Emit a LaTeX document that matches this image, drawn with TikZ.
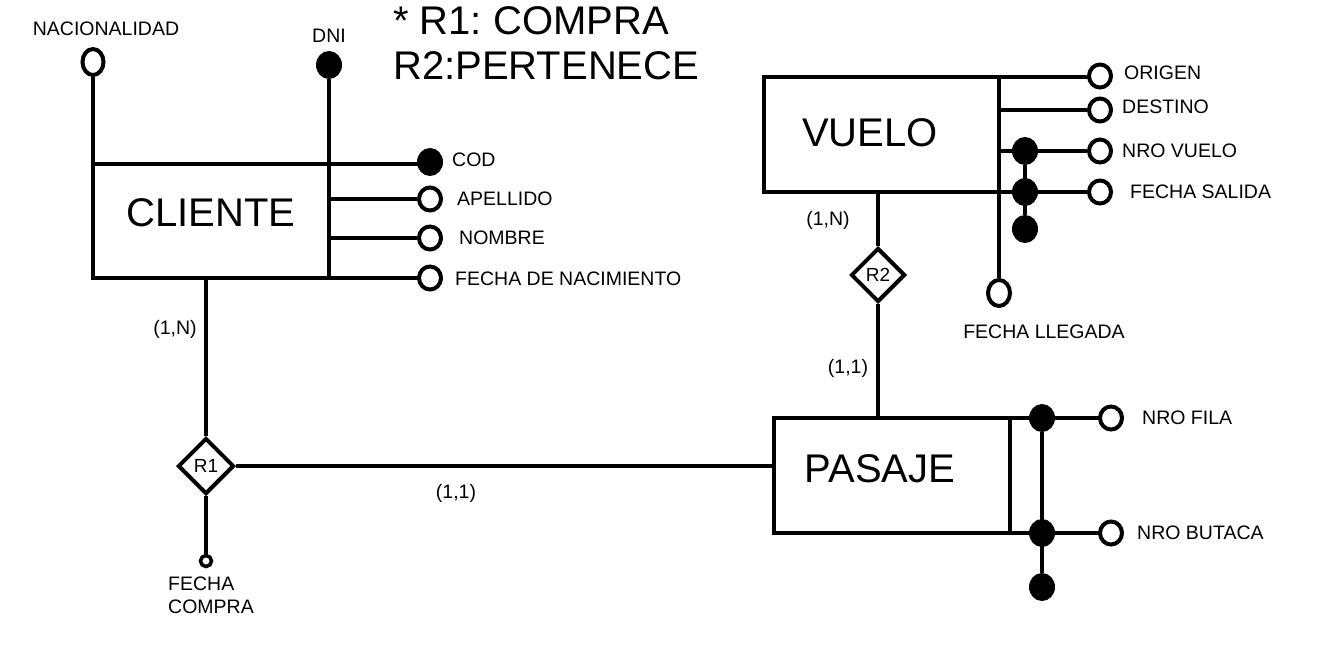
\documentclass[tikz,border=0pt]{standalone}
\usepackage{fontspec}
\setmainfont{Liberation Sans}
\usetikzlibrary{shapes.geometric}
\pgfdeclarelayer{bg}
\pgfsetlayers{bg,main}
\frenchspacing
\begin{document}
\begin{tikzpicture}[x=1pt,y=-1pt,
  ln/.style={line width=4.5pt},
  ent/.style={draw, line width=4.5pt, rectangle, inner sep=0pt, outer sep=0pt},
  att/.style={ellipse, draw, line width=4pt, fill=white, minimum width=22pt, minimum height=23pt, inner sep=0pt},
  keyatt/.style={ellipse, fill=black, minimum width=26pt, minimum height=28pt, inner sep=0pt},
  rel/.style={diamond, draw, line width=4pt, fill=white, aspect=1, inner sep=0pt, font=\fontsize{19}{21}\selectfont},
  lbl/.style={font=\fontsize{19.5}{22}\selectfont, inner sep=0pt},
  big/.style={font=\fontsize{40}{44}\selectfont, inner sep=0pt}
]
\useasboundingbox (0,0) rectangle (1324,646);
\begin{pgfonlayer}{bg}
\fill[white] (0,0) rectangle (1324,646);
\end{pgfonlayer}

% Title
\node[big, anchor=west] (t1) at (393,21) {* R1: COMPRA};
\node[big, anchor=west] (t2) at (393,66) {R2:PERTENECE};

% CLIENTE
\node[ent, minimum width=236pt, minimum height=114pt] (cli) at (211,221) {};
\node[big] (clit) at (211,213) {CLIENTE};
\node[att, minimum width=21pt, minimum height=26pt] (nac) at (93,62) {};
\node[keyatt] (dni) at (329,65) {};
\node[keyatt] (cod) at (430,162) {};
\node[att] (ape) at (430,199) {};
\node[att] (nom) at (430,238) {};
\node[att] (fnac) at (430,278) {};
\node[lbl] (nacl) at (106,29) {NACIONALIDAD};
\node[lbl] (dnil) at (329,36) {DNI};
\node[lbl, anchor=west] (codl) at (452,160) {COD};
\node[lbl, anchor=west] (apel) at (457,199) {APELLIDO};
\node[lbl, anchor=west] (noml) at (459,238) {NOMBRE};
\node[lbl, anchor=west] (fnacl) at (455,279) {FECHA DE NACIMIENTO};

% R1
\node[rel, minimum size=56pt] (r1) at (206,466) {R1};
\node[att, line width=3.5pt, minimum width=11pt, minimum height=11pt] (fc) at (206,561) {};
\node[lbl, anchor=west, align=left, font=\fontsize{19.5}{23}\selectfont] (fcl) at (168,595) {FECHA\\COMPRA};
\node[lbl] (c1) at (175,329) {(1,N)};
\node[lbl] (c2) at (456,493) {(1,1)};

% VUELO
\node[ent, minimum width=235pt, minimum height=115pt] (vue) at (881.5,134.5) {};
\node[big] (vuet) at (870,133) {VUELO};
\node[att] (ori) at (1100,76) {};
\node[att] (des) at (1100,110) {};
\node[att] (nv) at (1100,151) {};
\node[att] (fs) at (1100,192) {};
\node[att, minimum width=22pt, minimum height=26pt] (fl) at (999,293) {};
\node[keyatt] (k1) at (1025,151) {};
\node[keyatt] (k2) at (1025,192) {};
\node[keyatt] (k3) at (1025,229) {};
\node[lbl, anchor=west] (oril) at (1124,73) {ORIGEN};
\node[lbl, anchor=west] (desl) at (1122,107) {DESTINO};
\node[lbl, anchor=west] (nvl) at (1122,151) {NRO VUELO};
\node[lbl, anchor=west] (fsl) at (1130,192) {FECHA SALIDA};
\node[lbl] (fll) at (1044,332) {FECHA LLEGADA};

% R2
\node[rel, minimum size=54pt] (r2) at (878,275) {R2};
\node[lbl] (c3) at (828,220) {(1,N)};
\node[lbl] (c4) at (848,368) {(1,1)};

% PASAJE
\node[ent, minimum width=236pt, minimum height=115pt] (pas) at (892,475.5) {};
\node[big] (past) at (880,469) {PASAJE};
\node[keyatt] (k4) at (1042,418) {};
\node[keyatt] (k5) at (1042,533) {};
\node[keyatt] (k6) at (1042,587) {};
\node[att] (nf) at (1111,418) {};
\node[att] (nb) at (1111,533) {};
\node[lbl, anchor=west] (nfl) at (1142,418) {NRO FILA};
\node[lbl, anchor=west] (nbl) at (1137,533) {NRO BUTACA};

\begin{pgfonlayer}{bg}
  % CLIENTE connectors
  \draw[ln] (nac) -- (nac |- cli.north);
  \draw[ln] (dni) -- (dni |- cli.south);
  \draw[ln] (cli.north east) -- (cod.center |- cli.north east);
  \draw[ln] (cli.east |- ape) -- (ape);
  \draw[ln] (cli.east |- nom) -- (nom);
  \draw[ln] (cli.south east) -- (fnac.center |- cli.south east);
  \draw[ln] (r1.north |- cli.south) -- (r1.north);
  \draw[ln] (r1.east) -- (r1.east -| pas.west);
  \draw[ln] (r1.south) -- (fc);
  % VUELO connectors
  \draw[ln] (vue.north east) -- (ori.center |- vue.north);
  \draw[ln] (vue.north east) -- (fl);
  \draw[ln] (vue.east |- des) -- (des);
  \draw[ln] (vue.east |- nv) -- (nv);
  \draw[ln] (vue.south east) -- (fs.center |- vue.south);
  \draw[ln, line width=4pt] (k1) -- (k3);
  \draw[ln] (r2.north |- vue.south) -- (r2.north);
  \draw[ln] (r2.south) -- (r2.south |- pas.north);
  % PASAJE connectors
  \draw[ln] (pas.north east) -- (nf.center |- pas.north east);
  \draw[ln] (pas.south east) -- (nb.center |- pas.south east);
  \draw[ln] (k4) -- (k6);
\end{pgfonlayer}
\end{tikzpicture}
\end{document}
